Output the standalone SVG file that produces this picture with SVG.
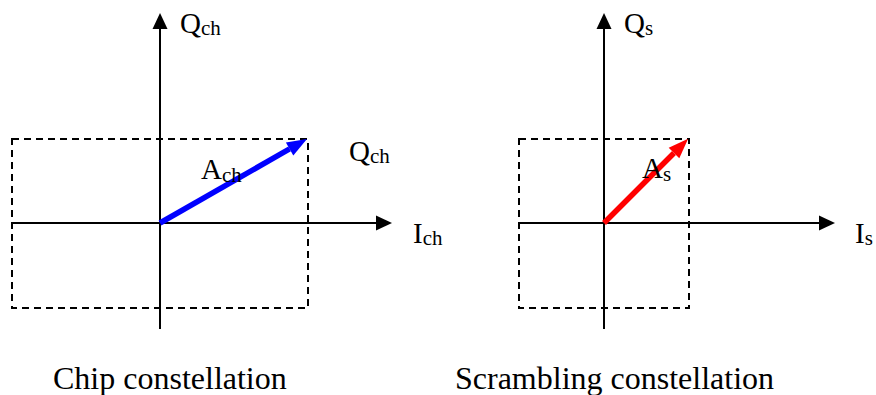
<svg xmlns="http://www.w3.org/2000/svg" width="876" height="395" viewBox="0 0 876 395">
<style>
.axis{stroke:#000;stroke-width:2;fill:none}
.dash{stroke:#000;stroke-width:2;fill:none;stroke-dasharray:7 5}
.lbl{font-family:"Liberation Serif","Times New Roman",serif;font-size:29px;fill:#000}
.sub{font-size:21px}
.cap{font-family:"Liberation Serif","Times New Roman",serif;font-size:32px;fill:#000}
</style>
<defs>
<marker id="ax" markerUnits="userSpaceOnUse" markerWidth="17" markerHeight="16" refX="0" refY="8" orient="auto" overflow="visible">
<path d="M0,0.5 L16,8 L0,15.5 z" fill="#000"/>
</marker>
<marker id="vb" markerUnits="userSpaceOnUse" markerWidth="21" markerHeight="15" refX="0" refY="7.5" orient="auto" overflow="visible">
<path d="M0,0 L20,7.5 L0,15 z" fill="#0000ff"/>
</marker>
<marker id="vr" markerUnits="userSpaceOnUse" markerWidth="21" markerHeight="15" refX="0" refY="7.5" orient="auto" overflow="visible">
<path d="M0,0 L20,7.5 L0,15 z" fill="#ff0000"/>
</marker>
</defs>
<g id="chip">
<rect class="dash" x="12" y="139" width="296" height="169"/>
<g id="connectors-chip">
<line class="axis" x1="160" y1="329" x2="160" y2="29" marker-end="url(#ax)"/>
<line class="axis" x1="12" y1="223" x2="376" y2="223" marker-end="url(#ax)"/>
<line x1="160" y1="223" x2="289.6" y2="148.9" stroke="#0000ff" stroke-width="5.5" marker-end="url(#vb)"/>
</g>
<text class="lbl" x="180" y="33">Q<tspan class="sub" dy="2">ch</tspan></text>
<text class="lbl" x="349" y="161">Q<tspan class="sub" dy="2">ch</tspan></text>
<text class="lbl" x="201" y="179">A<tspan class="sub" dy="3">ch</tspan></text>
<text class="lbl" x="413" y="243">I<tspan class="sub" dy="2">ch</tspan></text>
<text class="cap" x="53" y="389">Chip constellation</text>
</g>
<g id="scrambling">
<rect class="dash" x="519" y="139" width="170" height="169"/>
<g id="connectors-scr">
<line class="axis" x1="604" y1="329" x2="604" y2="29" marker-end="url(#ax)"/>
<line class="axis" x1="518" y1="223" x2="819" y2="223" marker-end="url(#ax)"/>
<line x1="604" y1="223" x2="674" y2="153" stroke="#ff0000" stroke-width="5.5" marker-end="url(#vr)"/>
</g>
<text class="lbl" x="624" y="33">Q<tspan class="sub" dy="2">s</tspan></text>
<text class="lbl" x="642" y="178">A<tspan class="sub" dy="3">s</tspan></text>
<text class="lbl" x="855" y="243">I<tspan class="sub" dy="2">s</tspan></text>
<text class="cap" x="455" y="389">Scrambling constellation</text>
</g>
</svg>
